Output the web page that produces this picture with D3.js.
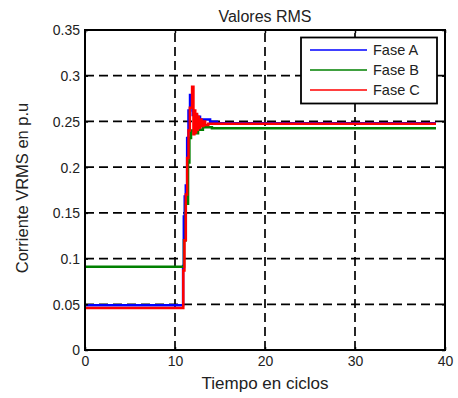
<!DOCTYPE html>
<html><head><meta charset="utf-8">
<script src="https://cdn.jsdelivr.net/npm/d3@7"></script>
<style>body{margin:0;background:#fff}svg{display:block}text{font-family:"Liberation Sans",Arial,sans-serif;fill:#222}</style>
</head><body><svg id="c" width="458" height="398"></svg>
<script>
const title = "Valores RMS";
const xLabel = "Tiempo en ciclos";
const yLabel = "Corriente VRMS en p.u";
const xTicks = [0, 10, 20, 30, 40];
const yTicks = [0, 0.05, 0.1, 0.15, 0.2, 0.25, 0.3, 0.35];
const seriesNames = ["Fase A", "Fase B", "Fase C"];
const seriesColors = ["#0000ff", "#008000", "#ff0000"];

const tA = [0, 10.9, 10.98, 11.08, 11.2, 11.35, 11.5, 11.67, 11.97, 12.44, 12.78, 13.9, 14.67, 39];
const vA = [0.049, 0.092, 0.146, 0.168, 0.18, 0.232, 0.262, 0.279, 0.257, 0.255, 0.252, 0.2497, 0.248, 0.248];

const tB = [0, 11.0, 11.2, 11.45, 11.6, 11.78, 12.1, 12.56, 13.1, 14.1, 39];
const vB = [0.091, 0.12, 0.16, 0.205, 0.232, 0.24, 0.237, 0.241, 0.2435, 0.2425, 0.2425];

const tC = [0, 10.92, 11.05, 11.2, 11.35, 11.5, 11.65, 11.9, 12.05, 12.15, 12.25, 12.35, 12.45, 12.55, 12.65, 12.8, 12.95, 13.15, 13.35, 13.7, 39];
const vC = [0.046, 0.087, 0.12, 0.17, 0.21, 0.24, 0.265, 0.288, 0.236, 0.262, 0.238, 0.258, 0.241, 0.255, 0.243, 0.252, 0.245, 0.250, 0.246, 0.2475, 0.2475];

const svg = d3.select("#c");
const x = d3.scaleLinear().domain([0, 40]).range([85, 445]);
const y = d3.scaleLinear().domain([0, 0.35]).range([350, 30]);

// grid
const grid = svg.append("g").attr("stroke", "#000").attr("stroke-width", 1.7).attr("stroke-dasharray", "9,5");
grid.selectAll(".gx").data(xTicks.slice(1, -1)).enter().append("line")
  .attr("x1", d => x(d)).attr("x2", d => x(d)).attr("y1", y(0)).attr("y2", y(0.35));
grid.selectAll(".gy").data(yTicks.slice(1, -1)).enter().append("line")
  .attr("y1", d => y(d)).attr("y2", d => y(d)).attr("x1", x(0)).attr("x2", x(40));

// series
const sets = [[tA, vA], [tB, vB], [tC, vC]];
const line = d3.line().x(d => x(d[0])).y(d => y(d[1])).curve(d3.curveStepAfter);
sets.forEach((s, i) => {
  const pts = s[0].map((t, j) => [t, s[1][j]]);
  svg.append("path").datum(pts).attr("d", line).attr("fill", "none")
    .attr("stroke", seriesColors[i]).attr("stroke-width", 2.5);
});

// axes
const xAxis = d3.axisBottom(x).tickValues(xTicks).tickSize(-3).tickPadding(6).tickFormat(d3.format("d"));
const yAxis = d3.axisLeft(y).tickValues(yTicks).tickSize(-3).tickPadding(5).tickFormat(d => d === 0 ? "0" : d3.format("")(d));
const gx = svg.append("g").attr("transform", `translate(0,${y(0)})`).call(xAxis);
const gy = svg.append("g").attr("transform", `translate(${x(0)},0)`).call(yAxis);
[gx, gy].forEach(g => {
  g.select(".domain").remove();
  g.selectAll("line").attr("stroke", "#000").attr("stroke-width", 1.5);
  g.selectAll("text").style("font-size", "14px").attr("fill", "#222");
});
gy.selectAll("text").attr("dy", "0.35em");
// top/right ticks
const gt = svg.append("g").attr("transform", `translate(0,${y(0.35)})`).call(d3.axisTop(x).tickValues(xTicks).tickSize(-3).tickFormat(""));
const gr = svg.append("g").attr("transform", `translate(${x(40)},0)`).call(d3.axisRight(y).tickValues(yTicks).tickSize(-3).tickFormat(""));
[gt, gr].forEach(g => { g.select(".domain").remove(); g.selectAll("line").attr("stroke", "#000").attr("stroke-width", 1.5); });

// frame
svg.append("rect").attr("x", x(0)).attr("y", y(0.35)).attr("width", x(40) - x(0)).attr("height", y(0) - y(0.35))
  .attr("fill", "none").attr("stroke", "#000").attr("stroke-width", 2);

// titles
svg.append("text").attr("x", 265).attr("y", 22).attr("text-anchor", "middle").style("font-size", "16px").text(title);
svg.append("text").attr("x", 265).attr("y", 389).attr("text-anchor", "middle").style("font-size", "17px").text(xLabel);
svg.append("text").attr("transform", `translate(28,${188}) rotate(-90)`).attr("text-anchor", "middle").style("font-size", "16.5px").text(yLabel);

// legend
const lg = svg.append("g");
lg.append("rect").attr("x", 301).attr("y", 37.5).attr("width", 136).attr("height", 66)
  .attr("fill", "#fff").attr("stroke", "#000").attr("stroke-width", 1.8);
seriesNames.forEach((n, i) => {
  const yy = 50 + i * 20;
  lg.append("line").attr("x1", 310).attr("x2", 367).attr("y1", yy).attr("y2", yy)
    .attr("stroke", seriesColors[i]).attr("stroke-width", 1.6);
  lg.append("text").attr("x", 373).attr("y", yy).attr("dy", "0.36em").style("font-size", "14.5px").text(n);
});
</script></body></html>
